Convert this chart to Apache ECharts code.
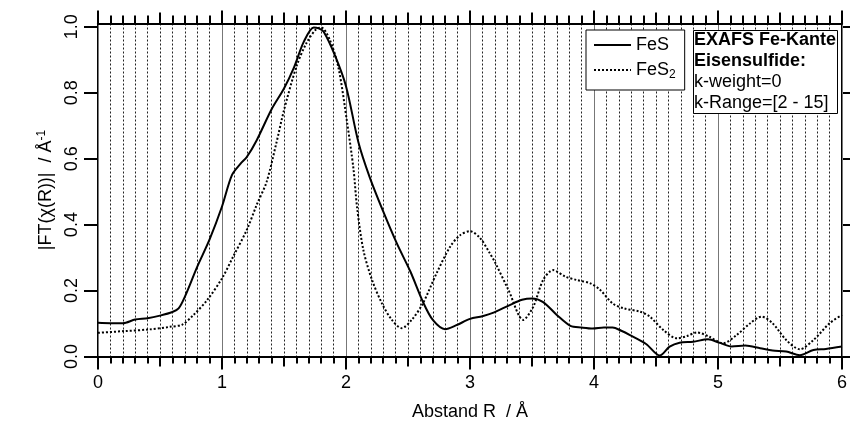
<!DOCTYPE html>
<html>
<head>
<meta charset="utf-8">
<script src="https://cdn.jsdelivr.net/npm/echarts@6/dist/echarts.min.js"></script>
<style>html,body{margin:0;padding:0;background:#fff}#c{width:850px;height:430px}</style>
</head>
<body>
<div id="c"></div>
<script>
// ---- data ----
const rFeS = [0.00,0.10,0.20,0.30,0.40,0.50,0.60,0.65,0.70,0.80,0.90,1.00,1.08,1.15,1.20,1.28,1.40,1.50,1.58,1.66,1.74,1.78,1.82,1.91,2.00,2.10,2.19,2.30,2.41,2.52,2.62,2.70,2.80,2.89,3.00,3.10,3.19,3.32,3.42,3.50,3.59,3.70,3.81,3.90,3.99,4.08,4.15,4.22,4.29,4.42,4.53,4.61,4.69,4.80,4.92,5.01,5.11,5.22,5.34,5.44,5.55,5.66,5.77,5.87,6.00];
const vFeS = [0.102,0.101,0.101,0.112,0.116,0.124,0.135,0.146,0.181,0.272,0.355,0.455,0.550,0.585,0.605,0.656,0.750,0.813,0.876,0.955,0.998,0.995,0.985,0.914,0.820,0.650,0.545,0.440,0.343,0.257,0.166,0.111,0.083,0.095,0.114,0.122,0.133,0.156,0.172,0.176,0.165,0.126,0.093,0.088,0.085,0.088,0.088,0.078,0.065,0.038,0.003,0.030,0.042,0.045,0.052,0.042,0.030,0.033,0.025,0.018,0.015,0.004,0.020,0.023,0.030];
const rFeS2 = [0.00,0.21,0.41,0.58,0.68,0.77,0.88,1.00,1.09,1.20,1.28,1.36,1.44,1.50,1.60,1.68,1.76,1.80,1.87,1.94,2.01,2.06,2.09,2.14,2.21,2.29,2.37,2.45,2.53,2.62,2.73,2.84,2.92,3.00,3.08,3.16,3.20,3.31,3.43,3.51,3.59,3.67,3.77,3.86,3.97,4.05,4.15,4.24,4.37,4.45,4.56,4.67,4.75,4.83,4.93,5.04,5.15,5.26,5.35,5.44,5.55,5.66,5.77,5.90,6.00];
const vFeS2 = [0.072,0.077,0.082,0.090,0.097,0.126,0.171,0.237,0.303,0.384,0.460,0.530,0.650,0.747,0.879,0.950,0.993,0.998,0.960,0.874,0.707,0.570,0.450,0.323,0.232,0.161,0.111,0.086,0.111,0.161,0.252,0.333,0.368,0.380,0.360,0.313,0.287,0.202,0.111,0.151,0.232,0.262,0.242,0.232,0.222,0.202,0.161,0.146,0.136,0.121,0.080,0.055,0.062,0.073,0.060,0.040,0.065,0.101,0.121,0.101,0.050,0.022,0.050,0.101,0.126];
const yTicks = [0, 0.2, 0.4, 0.6, 0.8, 1.0];
const seriesNames = ['FeS', 'FeS2'];
const infoLines = ['EXAFS Fe-Kante', 'Eisensulfide:', 'k-weight=0', 'k-Range=[2 - 15]'];
const xName = 'Abstand R  / Å';

const FONT = '"Liberation Sans", Arial, Helvetica, sans-serif';
const pairs = (xs, ys) => xs.map((x, i) => [x, ys[i]]);

const chart = echarts.init(document.getElementById('c'), null, {renderer: 'canvas'});
const baseX = {type: 'value', min: 0, max: 6, axisLine: {show: false, onZero: false}, axisLabel: {show: false}, splitLine: {show: false}, axisTick: {show: false}};
const blackLine = {show: true, onZero: false, lineStyle: {color: '#000', width: 2}};

chart.setOption({
  animation: false,
  color: ['#000', '#000'],
  grid: {left: 98, right: 8, top: 23.5, bottom: 73.5, outerBoundsMode: 'none', containLabel: false},
  title: {
    left: 693, top: 29,
    text: '{b|' + infoLines[0] + '}\n{b|' + infoLines[1] + '}\n{n|' + infoLines[2] + '}\n{n|' + infoLines[3] + '}',
    padding: [1, 2, 1, 1],
    borderWidth: 1, borderColor: '#000', backgroundColor: '#fff',
    textStyle: {
      fontFamily: FONT, color: '#000',
      rich: {
        b: {fontFamily: FONT, fontSize: 18, fontWeight: 'bold', lineHeight: 21, color: '#000'},
        n: {fontFamily: FONT, fontSize: 18, fontWeight: 'normal', lineHeight: 21, color: '#000'}
      }
    }
  },
  legend: {
    left: 586, top: 30, orient: 'vertical',
    data: seriesNames,
    itemWidth: 37, itemHeight: 14, itemGap: 7,
    padding: [6, 9, 9, 7],
    borderWidth: 1, borderColor: '#000', backgroundColor: '#fff',
    itemStyle: {color: 'rgba(0,0,0,0)', borderColor: 'rgba(0,0,0,0)', borderWidth: 0},
    formatter: n => n === 'FeS2' ? '{m|FeS}{s|2}' : '{m|' + n + '}',
    textStyle: {
      fontFamily: FONT, color: '#000',
      rich: {
        m: {fontFamily: FONT, fontSize: 18, color: '#000', lineHeight: 22, verticalAlign: 'middle'},
        s: {fontFamily: FONT, fontSize: 12, color: '#000', lineHeight: 22, verticalAlign: 'bottom', padding: [8, 0, 0, 0]}
      }
    }
  },
  xAxis: [
    Object.assign({}, baseX, {
      position: 'bottom', interval: 1, z: 3,
      axisLine: blackLine,
      axisTick: {show: true, length: 13, lineStyle: {color: '#000', width: 2}},
      axisLabel: {show: true, fontFamily: FONT, fontSize: 18, color: '#000', margin: 18},
      splitLine: {show: true, lineStyle: {color: '#777', width: 1}},
      name: xName, nameLocation: 'middle', nameGap: 47,
      nameTextStyle: {fontFamily: FONT, fontSize: 18, color: '#000'}
    }),
    Object.assign({}, baseX, {
      position: 'bottom', interval: 0.5, z: 1,
      axisTick: {show: true, length: 10, lineStyle: {color: '#000', width: 2}},
      minorTick: {show: true, splitNumber: 5, length: 7, lineStyle: {color: '#000', width: 2}},
      splitLine: {show: true, lineStyle: {color: '#222', width: 1, type: [2, 2]}},
      minorSplitLine: {show: true, lineStyle: {color: '#222', width: 1, type: [2, 2]}}
    }),
    Object.assign({}, baseX, {
      position: 'top', interval: 1, z: 3,
      axisLine: blackLine,
      axisTick: {show: true, length: 13, lineStyle: {color: '#000', width: 2}}
    }),
    Object.assign({}, baseX, {
      position: 'top', interval: 0.5, z: 1,
      axisTick: {show: true, length: 11, lineStyle: {color: '#000', width: 2}},
      minorTick: {show: true, splitNumber: 5, length: 8, lineStyle: {color: '#000', width: 2}}
    })
  ],
  yAxis: [
    {
      type: 'value', position: 'left', min: 0, max: 1.01,
      axisLine: blackLine,
      axisTick: {show: true, length: 14, customValues: yTicks, lineStyle: {color: '#000', width: 2}},
      axisLabel: {show: true, customValues: yTicks, rotate: 90, fontFamily: FONT, fontSize: 18, color: '#000', margin: 17,
                  formatter: v => v.toFixed(1)},
      splitLine: {show: false},
      name: '|FT(χ(R))|  / Å{sup|-1}', nameLocation: 'middle', nameGap: 36, nameRotate: 90,
      nameTextStyle: {fontFamily: FONT, fontSize: 18, color: '#000',
        rich: {sup: {fontFamily: FONT, fontSize: 12, color: '#000', verticalAlign: 'top', padding: [0, 0, 8, 0]}}}
    },
    {
      type: 'value', position: 'right', min: 0, max: 1.01,
      axisLine: blackLine,
      axisTick: {show: true, length: 8, customValues: yTicks, lineStyle: {color: '#000', width: 2}},
      axisLabel: {show: false},
      splitLine: {show: false}
    }
  ],
  series: [
    {name: seriesNames[0], type: 'line', xAxisIndex: 0, yAxisIndex: 0, data: pairs(rFeS, vFeS),
     smooth: 0.3, symbol: 'none', clip: false, z: 4,
     itemStyle: {color: '#000'},
     lineStyle: {color: '#000', width: 2}},
    {name: seriesNames[1], type: 'line', xAxisIndex: 0, yAxisIndex: 0, data: pairs(rFeS2, vFeS2),
     smooth: 0.3, symbol: 'none', clip: false, z: 4,
     itemStyle: {color: '#000'},
     lineStyle: {color: '#000', width: 2, type: [2, 2]}}
  ]
});
</script>
</body>
</html>
